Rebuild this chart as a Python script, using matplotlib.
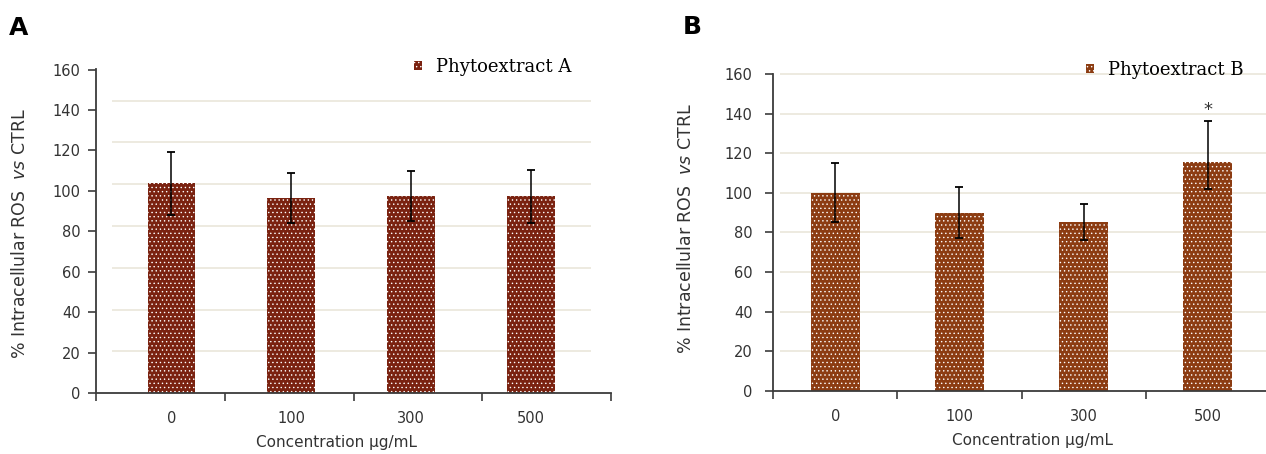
import numpy as np
import matplotlib
matplotlib.use('Agg')
import matplotlib.pyplot as plt

# ---------------- data ----------------
categories = ['0', '100', '300', '500']
values_a = [100.5, 93.5, 94.2, 94.2]
err_a = [15.0, 12.0, 12.0, 12.8]
values_b = [100.0, 90.0, 85.0, 115.7]
err_b_low = [14.7, 12.8, 8.9, 13.9]
err_b_high = [14.8, 13.1, 9.2, 20.6]
yticks = [0, 20, 40, 60, 80, 100, 120, 140, 160]
grid_vals = [20, 40, 60, 80, 100, 120, 140, 160]
legend_a = 'Phytoextract A'
legend_b = 'Phytoextract B'
ylabel_text = r'% Intracellular ROS  $\it{vs}$ CTRL'
xlabel_text = 'Concentration µg/mL'

# ---------------- style ----------------
W, H = 1266, 454
col_a = '#7A2210'
col_b = '#8C3C12'
grid_col = '#EDEAE0'
spine_col = '#3C3C3C'
txt_col = '#333333'
plt.rcParams['hatch.linewidth'] = 0.5

fig = plt.figure(figsize=(W / 100, H / 100), dpi=100)


def px_axes(left, top, right, bottom):
    return fig.add_axes([left / W, 1 - bottom / H, (right - left) / W, (bottom - top) / H])


def style_x(ax):
    x = np.arange(len(categories))
    ax.set_xticks(x)
    ax.set_xticklabels(categories, fontsize=10.5, color=txt_col)
    ax.tick_params(axis='x', which='major', length=0, pad=13)
    ax.set_xticks(np.linspace(*ax.get_xlim(), len(categories) + 1), minor=True)
    ax.tick_params(axis='x', which='minor', length=6, width=1.2, color=spine_col, direction='out')
    ax.spines['bottom'].set_color(spine_col)
    ax.spines['bottom'].set_linewidth(1.3)
    for s in ['top', 'right']:
        ax.spines[s].set_visible(False)


# ---------------- Panel A ----------------
axA = px_axes(96, 69.3, 611, 393.3)
x = np.arange(len(categories))
axA.set_xlim(-0.630, 3.669)
axA.set_ylim(0, 155.0)
axA.hlines([g for g in grid_vals if g < 155], -0.5, 3.5, color=grid_col, lw=1.4, zorder=1)
axA.bar(x, values_a, width=0.4, color=col_a, edgecolor='white', linewidth=0,
        hatch='....', label=legend_a, zorder=2)
axA.errorbar(x, values_a, yerr=err_a, fmt='none', ecolor='black', elinewidth=1.1,
             capsize=3, capthick=1.3, zorder=3)
style_x(axA)
axA.set_yticks([])
axA.spines['left'].set_visible(False)
k = (251.0 / 120.0) / (324.0 / 160.0)
secA = axA.secondary_yaxis('left', functions=(lambda y: y * k, lambda y: y / k))
secA.set_yticks(yticks)
secA.set_yticklabels([str(t) for t in yticks], fontsize=10.5, color=txt_col)
secA.tick_params(length=6, width=1.2, color=spine_col, pad=5)
secA.spines['left'].set_color(spine_col)
secA.spines['left'].set_linewidth(1.3)
axA.legend(loc='center left', bbox_to_anchor=(414 / W, 1 - 67 / H),
           bbox_transform=fig.transFigure, frameon=False, borderpad=0, borderaxespad=0,
           handlelength=0.45, handleheight=0.45, handletextpad=0.75,
           prop={'family': 'DejaVu Serif', 'size': 13})

# ---------------- Panel B ----------------
axB = px_axes(773.3, 74, 1269.7, 390.7)
axB.set_xlim(-0.5, 3.5)
axB.set_ylim(0, 160)
axB.hlines(grid_vals, -0.45, 3.5, color=grid_col, lw=1.4, zorder=1, clip_on=False)
axB.bar(x, values_b, width=0.4, color=col_b, edgecolor='white', linewidth=0,
        hatch='....', label=legend_b, zorder=2)
axB.errorbar(x, values_b, yerr=[err_b_low, err_b_high], fmt='none', ecolor='black',
             elinewidth=1.1, capsize=3, capthick=1.3, zorder=3)
axB.text(3, values_b[3] + err_b_high[3] + 5.5, '*', ha='center', va='center',
         fontsize=13, color=txt_col)
style_x(axB)
axB.set_yticks(yticks)
axB.set_yticklabels([str(t) for t in yticks], fontsize=10.5, color=txt_col)
axB.tick_params(axis='y', length=6, width=1.2, color=spine_col, pad=9)
axB.spines['left'].set_color(spine_col)
axB.spines['left'].set_linewidth(1.3)
axB.legend(loc='center left', bbox_to_anchor=(1086 / W, 1 - 70 / H),
           bbox_transform=fig.transFigure, frameon=False, borderpad=0, borderaxespad=0,
           handlelength=0.45, handleheight=0.45, handletextpad=0.75,
           prop={'family': 'DejaVu Serif', 'size': 13})

# ---------------- labels ----------------
fig.text(20 / W, 1 - 234 / H, ylabel_text, rotation=90, ha='center', va='center',
         fontsize=12.5, color=txt_col)
fig.text(686 / W, 1 - 229 / H, ylabel_text, rotation=90, ha='center', va='center',
         fontsize=12.5, color=txt_col)
fig.text(336 / W, 1 - 443 / H, xlabel_text, ha='center', va='center', fontsize=11, color=txt_col)
fig.text(1032 / W, 1 - 440 / H, xlabel_text, ha='center', va='center', fontsize=11, color=txt_col)
fig.text(19 / W, 1 - 28 / H, 'A', ha='center', va='center', fontsize=18, fontweight='bold')
fig.text(692 / W, 1 - 27 / H, 'B', ha='center', va='center', fontsize=18, fontweight='bold')

fig.savefig('out.png', dpi=100)
